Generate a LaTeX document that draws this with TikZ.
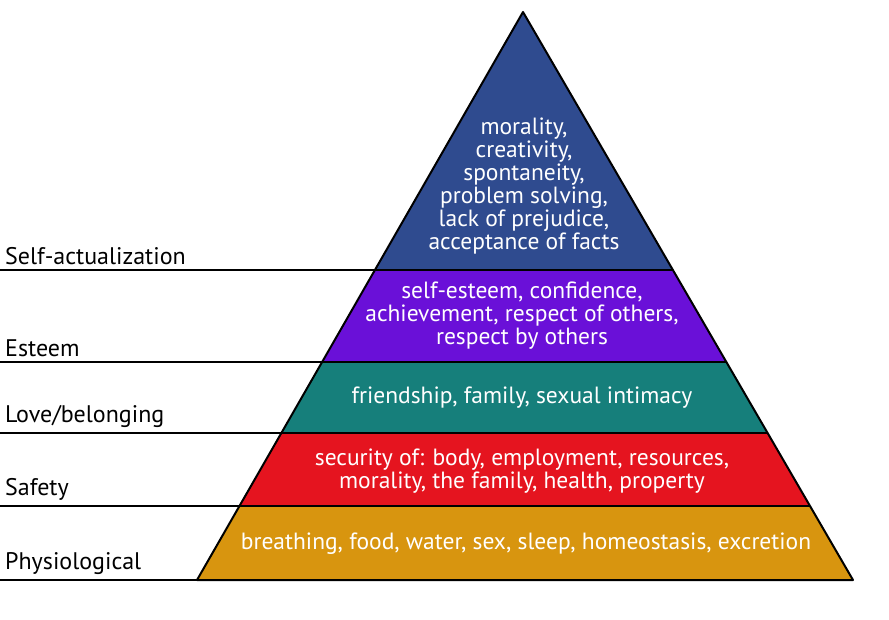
\documentclass[tikz,border=0pt]{standalone}
\usepackage{fontspec}
\setmainfont{PT Sans}
\definecolor{topblue}{HTML}{2F4B8F}
\definecolor{esteemviolet}{HTML}{6A10D8}
\definecolor{loveteal}{HTML}{167F7B}
\definecolor{safetyred}{HTML}{E5141F}
\definecolor{physioorange}{HTML}{D8950F}
\begin{document}
\begin{tikzpicture}
  [x=1pt, y=-1pt,
   layer/.style={draw=black, line width=2pt, line join=round},
   need/.style={text=white, align=center, font=\fontsize{23.5}{23}\selectfont},
   level/.style={anchor=south west, inner sep=1pt, font=\fontsize{24}{26}\selectfont},
   rule/.style={black, line width=1.6pt}]
\useasboundingbox (0,0) rectangle (889,620);
% pyramid corners
\coordinate (apex) at (523,12);
\coordinate (l1) at (375,270); \coordinate (r1) at (673,270);
\coordinate (l2) at (322,362); \coordinate (r2) at (726,362);
\coordinate (l3) at (281,433); \coordinate (r3) at (768,433);
\coordinate (l4) at (239,506); \coordinate (r4) at (810,506);
\coordinate (l5) at (197,580); \coordinate (r5) at (853,580);
% layers
\fill[physioorange] (l4) -- (r4) -- (r5) -- (l5) -- cycle;
\fill[safetyred] (l3) -- (r3) -- (r4) -- (l4) -- cycle;
\fill[loveteal] (l2) -- (r2) -- (r3) -- (l3) -- cycle;
\fill[esteemviolet] (l1) -- (r1) -- (r2) -- (l2) -- cycle;
\fill[topblue] (apex) -- (r1) -- (l1) -- cycle;
\draw[layer] (apex) -- (r5) -- (l5) -- cycle;
\foreach \i in {1,...,4}
  \draw[layer] (l\i) -- (r\i);
% texts in the layers
\node[need] (selfnote) at (524,186) {morality,\\creativity,\\spontaneity,\\problem solving,\\lack of prejudice,\\acceptance of facts};
\node[need] (esteemnote) at (522,316) {self-esteem, confidence,\\achievement, respect of others,\\respect by others};
\node[need] (lovenote) at (522,398) {friendship, family, sexual intimacy};
\node[need] (safetynote) at (522,471) {security of: body, employment, resources,\\morality, the family, health, property};
\node[need] (physionote) at (526,544) {breathing, food, water, sex, sleep, homeostasis, excretion};
% left rules and labels
\coordinate (e1) at (0,270); \coordinate (e2) at (0,362);
\coordinate (e3) at (0,433); \coordinate (e4) at (0,506);
\coordinate (e5) at (0,580);
\foreach \i in {1,...,5}
  \draw[rule] (e\i) -- (l\i);
\node[level] (selflabel) at (4,266) {Self-actualization};
\node[level] (esteemlabel) at (4,358) {Esteem};
\node[level] (lovelabel) at (4,429) {Love/belonging};
\node[level] (safetylabel) at (4,502) {Safety};
\node[level] (physiolabel) at (4,576) {Physiological};
\end{tikzpicture}
\end{document}
